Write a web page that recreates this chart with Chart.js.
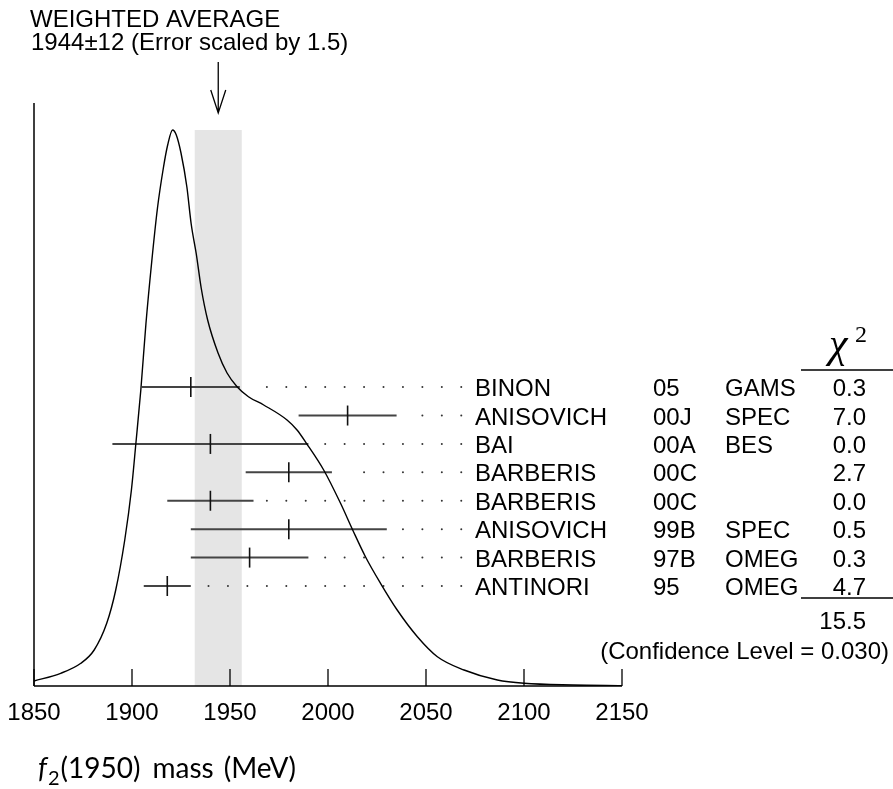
<!DOCTYPE html>
<html><head><meta charset="utf-8">
<script src="https://cdn.jsdelivr.net/npm/chart.js@4/dist/chart.umd.min.js"></script>
<style>html,body{margin:0;padding:0;background:#fff;}#wrap{width:893px;height:789px;}</style>
</head><body><div id="wrap"><canvas id="c" width="893" height="789"></canvas></div>
<script>
// ---- data ----
const tickValues = [1850, 1900, 1950, 2000, 2050, 2100, 2150];
const curveMass = [1850, 1863.6, 1873.9, 1880.7, 1887.1, 1891.7, 1896.3, 1899.7, 1902.0, 1904.5, 1907.1, 1910.1, 1913.0, 1916.0, 1918.2, 1920.7, 1922.6, 1925.0, 1928.0, 1930.2, 1932.8, 1935.3, 1938.6, 1943.9, 1948.5, 1953.6, 1959.4, 1967.2, 1979.1, 1984.2, 1989.0, 1997.8, 2006.4, 2012.6, 2019.1, 2026.8, 2035.3, 2045.6, 2055.8, 2069.4, 2086.4, 2100, 2125, 2150];
const curveHeight = [5, 12.7, 22.7, 36, 62.7, 96, 146, 196, 243, 296, 362, 425, 478, 518, 541, 556, 551, 533, 499, 462, 432, 398, 366, 333, 313, 299.3, 289.3, 281, 266, 256, 242.7, 216, 182.7, 156, 129.3, 102.7, 76, 49.3, 29.3, 16, 6, 2.7, 1, 0.4];
const authors = ['BINON', 'ANISOVICH', 'BAI', 'BARBERIS', 'BARBERIS', 'ANISOVICH', 'BARBERIS', 'ANTINORI'];
const years = ['05', '00J', '00A', '00C', '00C', '99B', '97B', '95'];
const experiments = ['GAMS', 'SPEC', 'BES', '', '', 'SPEC', 'OMEG', 'OMEG'];
const chi2Values = ['0.3', '7.0', '0.0', '2.7', '0.0', '0.5', '0.3', '4.7'];
const masses = [1930, 2010, 1940, 1980, 1940, 1980, 1960, 1918];
const errors = [25, 25, 50, 22, 22, 50, 30, 12];
const averageMass = 1944;
const averageError = 12;
const chi2Total = '15.5';
const headerLines = ['WEIGHTED AVERAGE', '1944\u00B112 (Error scaled by 1.5)'];
const confidenceText = '(Confidence Level = 0.030)';
const dotLastMass = 2068, dotStep = 9.92, dotGap = 6.65, dotMaxCount = 16;

// ---- datasets built from the arrays ----
const curveData = curveMass.map((m, i) => ({x: m, y: curveHeight[i]}));
const barSets = masses.map((m, i) => ({
  data: [{x: m - errors[i], y: i}, {x: m + errors[i], y: i}],
  showLine: true, borderColor: '#444', borderWidth: 2, pointRadius: 0,
  yAxisID: 'yRow', order: 2
}));
const centerData = masses.map((m, i) => ({x: m, y: i}));
const dotData = [];
masses.forEach((m, i) => {
  for (let k = 0; k < dotMaxCount; k++) {
    const v = dotLastMass - k * dotStep;
    if (v > m + errors[i] + dotGap) dotData.push({x: v, y: i});
  }
});

const SANS = '"Liberation Sans", Arial, Helvetica, sans-serif';

const deco = {
  id: 'deco',
  beforeDatasetsDraw(chart) {
    const {ctx, scales: {x, y}} = chart;
    const x1 = x.getPixelForValue(averageMass - averageError);
    const x2 = x.getPixelForValue(averageMass + averageError);
    const top = y.getPixelForValue(Math.max(...curveHeight));
    ctx.save();
    ctx.fillStyle = '#e5e5e5';
    ctx.fillRect(x1, top, x2 - x1, y.bottom - top);
    ctx.restore();
  },
  afterDraw(chart) {
    const {ctx, chartArea: ca, scales: {x, y, yRow}} = chart;
    ctx.save();
    ctx.strokeStyle = '#000';
    ctx.fillStyle = '#000';
    // axes
    ctx.lineWidth = 1.5;
    ctx.beginPath();
    ctx.moveTo(ca.left, ca.top); ctx.lineTo(ca.left, ca.bottom);
    ctx.moveTo(ca.left, ca.bottom); ctx.lineTo(ca.right, ca.bottom);
    ctx.stroke();
    // inward ticks + labels
    ctx.lineWidth = 1.3;
    ctx.font = '24px ' + SANS;
    ctx.textAlign = 'center';
    ctx.textBaseline = 'alphabetic';
    tickValues.forEach(v => {
      const px = x.getPixelForValue(v);
      ctx.beginPath();
      ctx.moveTo(px, ca.bottom); ctx.lineTo(px, ca.bottom - 17);
      ctx.stroke();
      ctx.fillText(String(v), px, ca.bottom + 34);
    });
    // header
    ctx.textAlign = 'left';
    ctx.fillText(headerLines[0], 30, 27);
    ctx.fillText(headerLines[1], 31, 49.5);
    // arrow
    const ax = x.getPixelForValue(averageMass);
    ctx.lineWidth = 1.3;
    ctx.beginPath();
    ctx.moveTo(ax, 62); ctx.lineTo(ax, 113);
    ctx.moveTo(ax - 7.5, 90); ctx.lineTo(ax, 113); ctx.lineTo(ax + 7.5, 90);
    ctx.stroke();
    // right-hand table
    authors.forEach((a, i) => {
      const py = yRow.getPixelForValue(i) + 9;
      ctx.textAlign = 'left';
      ctx.fillText(a, 475, py);
      ctx.fillText(years[i], 653, py);
      ctx.fillText(experiments[i], 725, py);
      ctx.textAlign = 'right';
      ctx.fillText(chi2Values[i], 866, py);
    });
    ctx.textAlign = 'right';
    ctx.fillText(chi2Total, 866, 628.5);
    ctx.fillText(confidenceText, 889, 658.5);
    // chi2 header
    ctx.textAlign = 'left';
    ctx.font = 'italic 42px "Liberation Serif", "Times New Roman", serif';
    ctx.fillText('\u03C7', 829, 357);
    ctx.font = '24px "Liberation Serif", "Times New Roman", serif';
    ctx.fillText('2', 855, 341.5);
    ctx.lineWidth = 1.3;
    ctx.beginPath();
    ctx.moveTo(801, 370); ctx.lineTo(893, 370);
    ctx.moveTo(801, 598); ctx.lineTo(893, 598);
    ctx.stroke();
    // axis title
    let tx = 38;
    const base = 778;
    ctx.font = 'italic 28px Lato, sans-serif';
    ctx.fillText('f', tx, base);
    tx += ctx.measureText('f').width + 1;
    ctx.font = '20px Lato, sans-serif';
    ctx.fillText('2', tx, base + 7);
    tx += ctx.measureText('2').width + 1;
    ctx.font = '28px Lato, sans-serif';
    ctx.fillText('(1950)', tx, base);
    tx += ctx.measureText('(1950)').width + 12;
    ctx.fillText('mass', tx, base);
    tx += ctx.measureText('mass').width + 10;
    ctx.fillText('(MeV)', tx, base);
    ctx.restore();
  }
};

new Chart(document.getElementById('c'), {
  type: 'scatter',
  data: {
    datasets: [
      {data: curveData, showLine: true, borderColor: '#000', borderWidth: 1.4, pointRadius: 0,
       cubicInterpolationMode: 'monotone', yAxisID: 'y', order: 1},
      ...barSets,
      {data: centerData, pointStyle: 'line', rotation: 90, radius: 10, borderColor: '#111',
       borderWidth: 1.6, yAxisID: 'yRow', order: 0},
      {data: dotData, pointStyle: 'circle', radius: 1, backgroundColor: '#333', borderWidth: 0,
       yAxisID: 'yRow', order: 3}
    ]
  },
  options: {
    responsive: false, animation: false, devicePixelRatio: 1,
    layout: {padding: {left: 34, right: 271, top: 103, bottom: 103}},
    plugins: {legend: {display: false}, tooltip: {enabled: false}},
    events: [],
    scales: {
      x: {type: 'linear', axis: 'x', min: 1850, max: 2150, display: false},
      y: {type: 'linear', axis: 'y', min: 0, max: 583, display: false},
      yRow: {type: 'linear', axis: 'y', reverse: true, min: -10, max: 10.52, display: false}
    }
  },
  plugins: [deco]
});
</script></body></html>
